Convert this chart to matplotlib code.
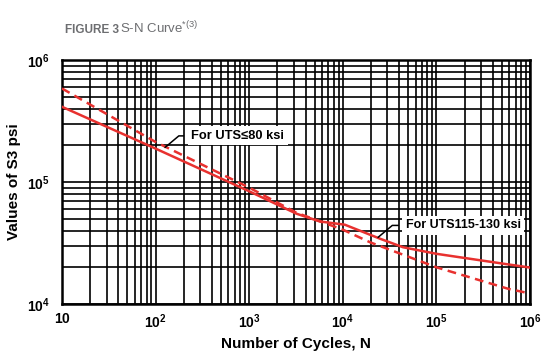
import numpy as np
import matplotlib
matplotlib.use("Agg")
import matplotlib.pyplot as plt
from matplotlib.ticker import LogLocator, NullFormatter

plt.rcParams["font.family"] = ["Liberation Sans", "DejaVu Sans"]
plt.rcParams["mathtext.fontset"] = "custom"
plt.rcParams["mathtext.rm"] = "Liberation Sans"
plt.rcParams["mathtext.bf"] = "Liberation Sans:bold"

# S-N curve data
n_low = [10, 100, 1000, 3200, 5700, 10500, 25000, 44000, 100000, 520000, 1000000]
s_high_uts = [414000, 188000, 84000, 55000, 47500, 44700, 34300, 29200, 25800, 21400, 19900]

n_dash = [10, 100, 1000, 3200, 10000, 19500, 100000, 590000, 1000000]
s_low_uts = [585000, 213000, 90000, 56000, 40700, 32100, 20000, 13300, 12200]

x_ticks = [10, 1e2, 1e3, 1e4, 1e5, 1e6]
x_labels = [r"$\mathbf{10}$", r"$\mathbf{10^{2}}$", r"$\mathbf{10^{3}}$", r"$\mathbf{10^{4}}$",
            r"$\mathbf{10^{5}}$", r"$\mathbf{10^{6}}$"]
y_ticks = [1e4, 1e5, 1e6]
y_labels = [r"$\mathbf{10^{4}}$", r"$\mathbf{10^{5}}$", r"$\mathbf{10^{6}}$"]

red = "#e8312f"
grey = "#6d6e71"

fig = plt.figure(figsize=(5.5, 3.63), dpi=100)
ax = fig.add_axes([0.1127, 0.1625, 0.851, 0.672])

ax.plot(n_low, s_high_uts, color=red, lw=1.8, zorder=3)
ax.plot(n_dash, s_low_uts, color=red, lw=1.8, ls=(0, (3.5, 2.2)), zorder=3)

ax.set_xscale("log")
ax.set_yscale("log")
ax.set_xlim(10, 1e6)
ax.set_ylim(1e4, 1e6)

ax.xaxis.set_minor_locator(LogLocator(base=10, subs=np.arange(2, 10)))
ax.yaxis.set_minor_locator(LogLocator(base=10, subs=np.arange(2, 10)))
ax.xaxis.set_minor_formatter(NullFormatter())
ax.yaxis.set_minor_formatter(NullFormatter())
ax.set_xticks(x_ticks)
ax.set_xticklabels(x_labels, fontsize=10)
ax.set_yticks(y_ticks)
ax.set_yticklabels(y_labels, fontsize=10)
ax.tick_params(which="both", length=0)
ax.tick_params(axis="x", pad=6)
ax.tick_params(axis="y", pad=9)

ax.grid(True, which="both", color="black", lw=1.2, zorder=1)
ax.set_axisbelow(True)
for s in ax.spines.values():
    s.set_linewidth(1.8)

ax.set_xlabel("Number of Cycles, N", fontsize=11, fontweight="bold", labelpad=4)
ax.set_ylabel("Values of S3 psi", fontsize=11, fontweight="bold", labelpad=4)

box = dict(facecolor="white", edgecolor="none", pad=2.5)
leader = dict(arrowstyle="-", color="black", lw=1.1,
              connectionstyle="angle,angleA=0,angleB=40,rad=0",
              shrinkA=3, shrinkB=0)
ax.annotate("For UTS≤80 ksi", xy=(126, 192000), xytext=(240, 239000),
            fontsize=9.3, fontweight="bold", va="center", ha="left", bbox=box,
            arrowprops=leader, zorder=4)
ax.annotate("For UTS115-130 ksi", xy=(23800, 35200), xytext=(47300, 44100),
            fontsize=9, fontweight="bold", va="center", ha="left", bbox=box,
            arrowprops=leader, zorder=4)

fig.text(65 / 550, 1 - 33 / 363, "FIGURE 3", fontsize=8.5, fontweight="bold",
         color=grey, va="baseline")
fig.text(120 / 550, 1 - 33 / 363, r"S-N Curve$^{*(3)}$", fontsize=9.5,
         color=grey, va="baseline")

fig.savefig("out.png", dpi=100)
